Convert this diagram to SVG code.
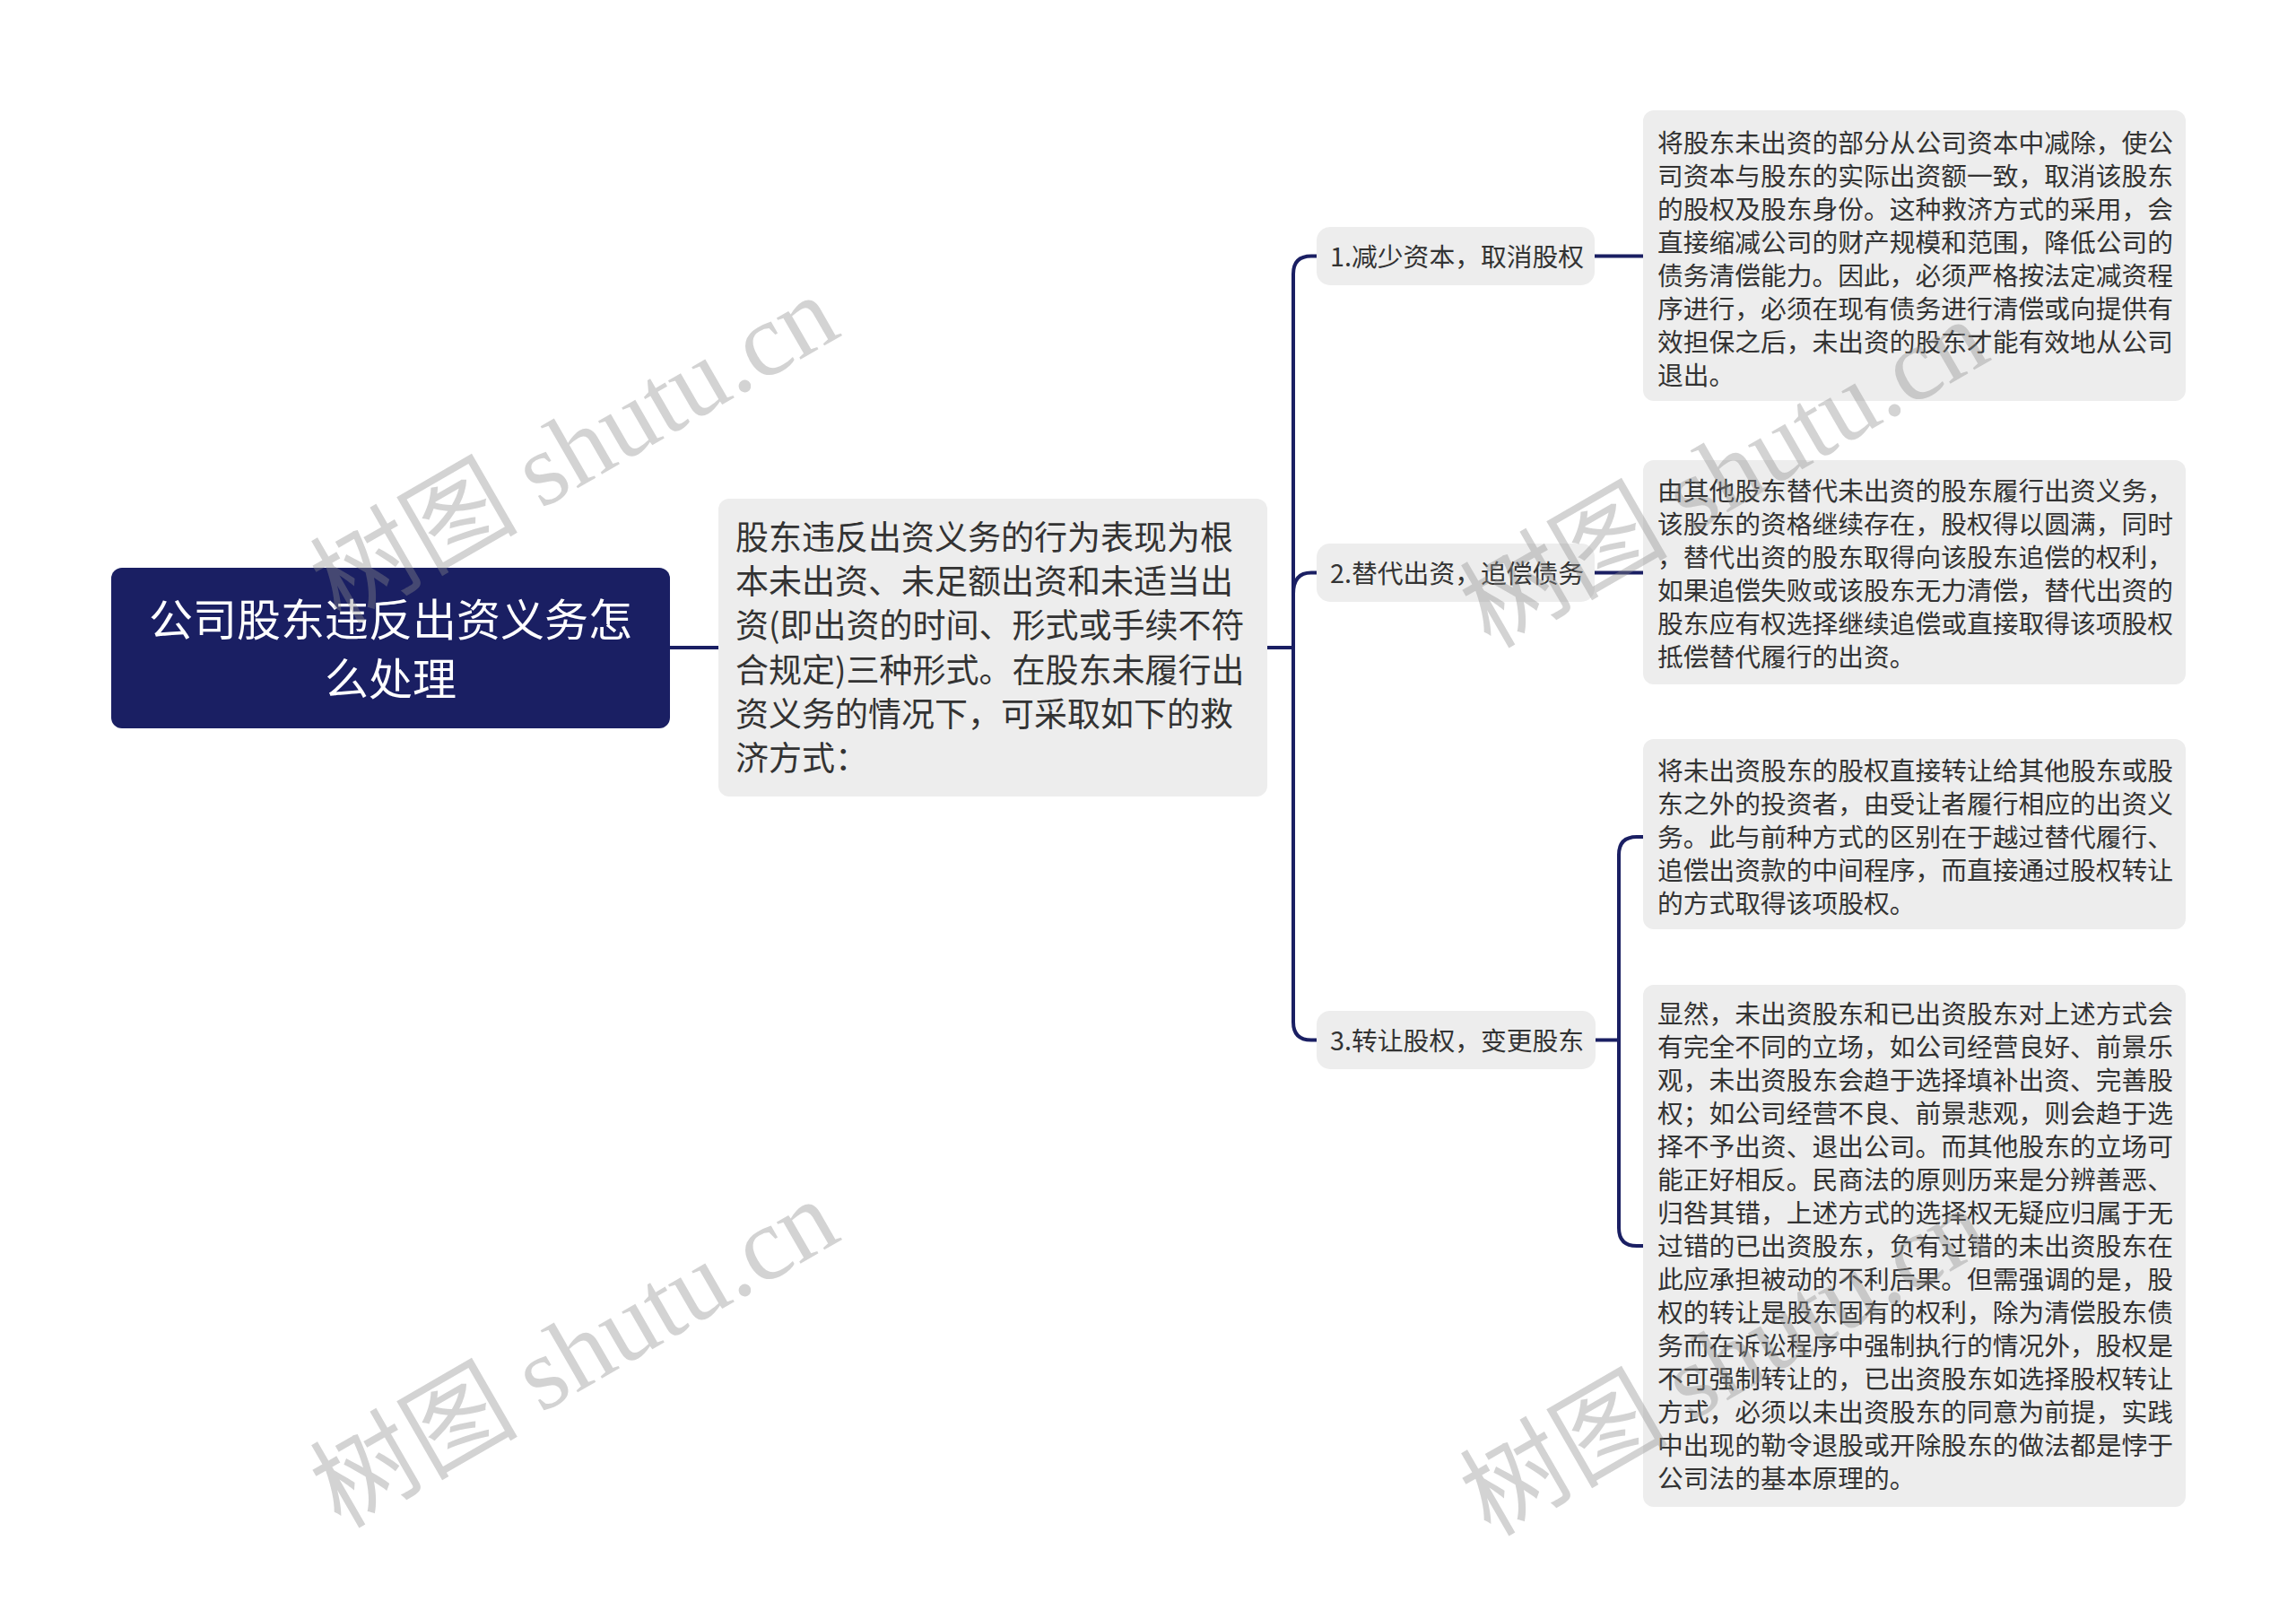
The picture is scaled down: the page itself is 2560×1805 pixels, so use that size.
<svg xmlns="http://www.w3.org/2000/svg" width="2560" height="1805" viewBox="0 0 2560 1805">
<style>
.cjk{font-family:"Noto Sans CJK SC","Noto Sans",sans-serif;}
.box{fill:#ededed;}
.t{fill:#333333;}
.wire{fill:none;stroke:#1a1f63;stroke-width:4;stroke-linecap:round;}
.wm{font-family:"Noto Sans CJK SC","Liberation Serif",serif;font-size:116px;fill:#8c8c8c;fill-opacity:0.38;}
</style>
<rect width="2560" height="1805" fill="#ffffff"/>
<g id="connectors">
<path class="wire" d="M747,722 H801"/>
<path class="wire" d="M1413,722 H1442"/>
<path class="wire" d="M1468,285.5 H1462 Q1442,285.5 1442,305.5 V1139.5 Q1442,1159.5 1462,1159.5 H1468"/>
<path class="wire" d="M1442,662 Q1442,638.5 1462,638.5 H1468"/>
<path class="wire" d="M1778,285.5 H1832"/>
<path class="wire" d="M1778,638.5 H1832"/>
<path class="wire" d="M1779,1159.5 H1805"/>
<path class="wire" d="M1832,933 H1825 Q1805,933 1805,953 V1369 Q1805,1389 1825,1389 H1832"/>
</g>
<g id="root">
<rect x="124" y="633" width="623" height="179" rx="12" fill="#1a1f63"/>
<text class="cjk" x="435.5" y="708.6" font-size="49" fill="#ffffff" text-anchor="middle">公司股东违反出资义务怎</text>
<text class="cjk" x="435.5" y="774.6" font-size="49" fill="#ffffff" text-anchor="middle">么处理</text>
</g>
<g id="summary">
<rect class="box" x="801" y="556" width="612" height="332" rx="12"/>
<g class="cjk t" font-size="37">
<text x="820" y="613">股东违反出资义务的行为表现为根</text>
<text x="820" y="662">本未出资、未足额出资和未适当出</text>
<text x="820" y="711">资(即出资的时间、形式或手续不符</text>
<text x="820" y="761">合规定)三种形式。在股东未履行出</text>
<text x="820" y="810">资义务的情况下，可采取如下的救</text>
<text x="820" y="859">济方式：</text>
</g>
</g>
<g id="branch1">
<rect class="box" x="1468" y="253" width="310" height="65" rx="15"/>
<text class="cjk t" x="1483" y="297" font-size="28.8">1.减少资本，取消股权</text>
</g>
<g id="branch2">
<rect class="box" x="1468" y="606" width="310" height="65" rx="15"/>
<text class="cjk t" x="1483" y="650" font-size="28.8">2.替代出资，追偿债务</text>
</g>
<g id="branch3">
<rect class="box" x="1468" y="1127" width="311" height="65" rx="15"/>
<text class="cjk t" x="1483" y="1171" font-size="28.8">3.转让股权，变更股东</text>
</g>
<g id="detail1">
<rect class="box" x="1832" y="123" width="605" height="324" rx="12"/>
<g class="cjk t" font-size="28.75">
<text x="1848" y="170">将股东未出资的部分从公司资本中减除，使公</text>
<text x="1848" y="207">司资本与股东的实际出资额一致，取消该股东</text>
<text x="1848" y="244">的股权及股东身份。这种救济方式的采用，会</text>
<text x="1848" y="281">直接缩减公司的财产规模和范围，降低公司的</text>
<text x="1848" y="318">债务清偿能力。因此，必须严格按法定减资程</text>
<text x="1848" y="355">序进行，必须在现有债务进行清偿或向提供有</text>
<text x="1848" y="392">效担保之后，未出资的股东才能有效地从公司</text>
<text x="1848" y="429">退出。</text>
</g>
</g>
<g id="detail2">
<rect class="box" x="1832" y="513" width="605" height="250" rx="12"/>
<g class="cjk t" font-size="28.75">
<text x="1848" y="558">由其他股东替代未出资的股东履行出资义务，</text>
<text x="1848" y="595">该股东的资格继续存在，股权得以圆满，同时</text>
<text x="1848" y="632">，替代出资的股东取得向该股东追偿的权利，</text>
<text x="1848" y="669">如果追偿失败或该股东无力清偿，替代出资的</text>
<text x="1848" y="706">股东应有权选择继续追偿或直接取得该项股权</text>
<text x="1848" y="743">抵偿替代履行的出资。</text>
</g>
</g>
<g id="detail3">
<rect class="box" x="1832" y="824" width="605" height="212" rx="12"/>
<g class="cjk t" font-size="28.75">
<text x="1848" y="870">将未出资股东的股权直接转让给其他股东或股</text>
<text x="1848" y="907">东之外的投资者，由受让者履行相应的出资义</text>
<text x="1848" y="944">务。此与前种方式的区别在于越过替代履行、</text>
<text x="1848" y="981">追偿出资款的中间程序，而直接通过股权转让</text>
<text x="1848" y="1018">的方式取得该项股权。</text>
</g>
</g>
<g id="detail4">
<rect class="box" x="1832" y="1098" width="605" height="582" rx="12"/>
<g class="cjk t" font-size="28.75">
<text x="1848" y="1141">显然，未出资股东和已出资股东对上述方式会</text>
<text x="1848" y="1178">有完全不同的立场，如公司经营良好、前景乐</text>
<text x="1848" y="1215">观，未出资股东会趋于选择填补出资、完善股</text>
<text x="1848" y="1252">权；如公司经营不良、前景悲观，则会趋于选</text>
<text x="1848" y="1289">择不予出资、退出公司。而其他股东的立场可</text>
<text x="1848" y="1326">能正好相反。民商法的原则历来是分辨善恶、</text>
<text x="1848" y="1363">归咎其错，上述方式的选择权无疑应归属于无</text>
<text x="1848" y="1400">过错的已出资股东，负有过错的未出资股东在</text>
<text x="1848" y="1437">此应承担被动的不利后果。但需强调的是，股</text>
<text x="1848" y="1474">权的转让是股东固有的权利，除为清偿股东债</text>
<text x="1848" y="1511">务而在诉讼程序中强制执行的情况外，股权是</text>
<text x="1848" y="1548">不可强制转让的，已出资股东如选择股权转让</text>
<text x="1848" y="1585">方式，必须以未出资股东的同意为前提，实践</text>
<text x="1848" y="1622">中出现的勒令退股或开除股东的做法都是悖于</text>
<text x="1848" y="1659">公司法的基本原理的。</text>
</g>
</g>
<g id="watermarks">
<text class="wm" transform="translate(660,535) rotate(-30)" text-anchor="middle">树图 <tspan font-family="Liberation Serif,serif">shutu.cn</tspan></text>
<text class="wm" transform="translate(660,1543) rotate(-30)" text-anchor="middle">树图 <tspan font-family="Liberation Serif,serif">shutu.cn</tspan></text>
<text class="wm" transform="translate(1942,562) rotate(-30)" text-anchor="middle">树图 <tspan font-family="Liberation Serif,serif">shutu.cn</tspan></text>
<text class="wm" transform="translate(1942,1552) rotate(-30)" text-anchor="middle">树图 <tspan font-family="Liberation Serif,serif">shutu.cn</tspan></text>
</g>
</svg>
